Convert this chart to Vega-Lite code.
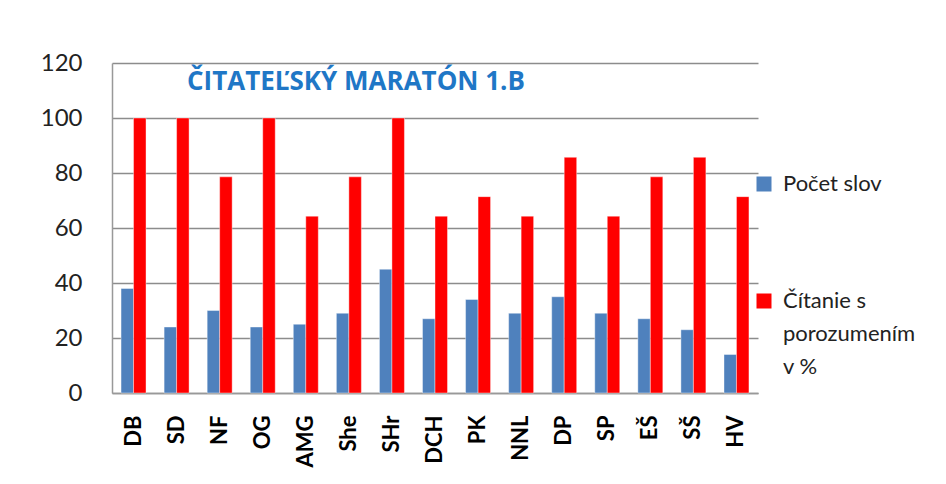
{
  "$schema": "https://vega.github.io/schema/vega-lite/v6.json",
  "width": 646,
  "height": 330,
  "autosize": {"type": "none"},
  "padding": {"left": 112, "top": 63, "right": 188, "bottom": 91},
  "background": "white",
  "title": {
    "text": "ČITATEĽSKÝ MARATÓN 1.B",
    "anchor": "start",
    "frame": "group",
    "dx": 75,
    "dy": 65,
    "offset": 0,
    "baseline": "alphabetic",
    "font": "Open Sans",
    "fontSize": 26,
    "fontWeight": "bold",
    "color": "#1F77C6"
  },
  "data": {
    "values": [
      {"meno": "DB", "serie": "Počet slov", "hodnota": 38},
      {"meno": "DB", "serie": "Čítanie s porozumením v %", "hodnota": 100},
      {"meno": "SD", "serie": "Počet slov", "hodnota": 24},
      {"meno": "SD", "serie": "Čítanie s porozumením v %", "hodnota": 100},
      {"meno": "NF", "serie": "Počet slov", "hodnota": 30},
      {"meno": "NF", "serie": "Čítanie s porozumením v %", "hodnota": 78.6},
      {"meno": "OG", "serie": "Počet slov", "hodnota": 24},
      {"meno": "OG", "serie": "Čítanie s porozumením v %", "hodnota": 100},
      {"meno": "AMG", "serie": "Počet slov", "hodnota": 25},
      {"meno": "AMG", "serie": "Čítanie s porozumením v %", "hodnota": 64.3},
      {"meno": "She", "serie": "Počet slov", "hodnota": 29},
      {"meno": "She", "serie": "Čítanie s porozumením v %", "hodnota": 78.6},
      {"meno": "SHr", "serie": "Počet slov", "hodnota": 45},
      {"meno": "SHr", "serie": "Čítanie s porozumením v %", "hodnota": 100},
      {"meno": "DCH", "serie": "Počet slov", "hodnota": 27},
      {"meno": "DCH", "serie": "Čítanie s porozumením v %", "hodnota": 64.3},
      {"meno": "PK", "serie": "Počet slov", "hodnota": 34},
      {"meno": "PK", "serie": "Čítanie s porozumením v %", "hodnota": 71.4},
      {"meno": "NNL", "serie": "Počet slov", "hodnota": 29},
      {"meno": "NNL", "serie": "Čítanie s porozumením v %", "hodnota": 64.3},
      {"meno": "DP", "serie": "Počet slov", "hodnota": 35},
      {"meno": "DP", "serie": "Čítanie s porozumením v %", "hodnota": 85.7},
      {"meno": "SP", "serie": "Počet slov", "hodnota": 29},
      {"meno": "SP", "serie": "Čítanie s porozumením v %", "hodnota": 64.3},
      {"meno": "EŠ", "serie": "Počet slov", "hodnota": 27},
      {"meno": "EŠ", "serie": "Čítanie s porozumením v %", "hodnota": 78.6},
      {"meno": "SŠ", "serie": "Počet slov", "hodnota": 23},
      {"meno": "SŠ", "serie": "Čítanie s porozumením v %", "hodnota": 85.7},
      {"meno": "HV", "serie": "Počet slov", "hodnota": 14},
      {"meno": "HV", "serie": "Čítanie s porozumením v %", "hodnota": 71.4}
    ]
  },
  "mark": {"type": "bar", "stroke": "white", "strokeWidth": 0.8, "strokeOpacity": 0.5},
  "encoding": {
    "x": {
      "field": "meno",
      "type": "nominal",
      "sort": null,
      "scale": {"paddingInner": 0.42, "paddingOuter": 0.21},
      "axis": {
        "title": null,
        "labelAngle": 270,
        "labelAlign": "right",
        "labelBaseline": "middle",
        "labelPadding": 22,
        "labelFont": "Lato",
        "labelFontSize": 22,
        "labelFontWeight": "bold",
        "labelColor": "#000000",
        "ticks": false,
        "domainColor": "#999999",
        "domainWidth": 1.5
      }
    },
    "xOffset": {"field": "serie", "type": "nominal", "sort": ["Počet slov", "Čítanie s porozumením v %"]},
    "y": {
      "field": "hodnota",
      "type": "quantitative",
      "scale": {"domain": [0, 120], "nice": false},
      "axis": {
        "title": null,
        "values": [0, 20, 40, 60, 80, 100, 120],
        "ticks": false,
        "labelPadding": 30,
        "labelFont": "Lato",
        "labelFontSize": 24,
        "labelColor": "#222222",
        "domainColor": "#999999",
        "domainWidth": 1.5,
        "gridColor": "#8C8C8C",
        "gridWidth": 1.5
      }
    },
    "color": {
      "field": "serie",
      "type": "nominal",
      "sort": ["Počet slov", "Čítanie s porozumením v %"],
      "scale": {"domain": ["Počet slov", "Čítanie s porozumením v %"], "range": ["#4F81BD", "#FF0000"]},
      "legend": {
        "title": null,
        "orient": "none",
        "legendX": 641,
        "legendY": 110,
        "padding": 0,
        "symbolType": "square",
        "symbolSize": 225,
        "symbolStrokeWidth": 0,
        "labelFont": "Lato",
        "labelFontSize": 22,
        "labelColor": "#222222",
        "labelOffset": 8,
        "labelLimit": 200,
        "rowPadding": 95,
        "labelExpr": "datum.label == 'Čítanie s porozumením v %' ? ['Čítanie s', 'porozumením', 'v %'] : datum.label"
      }
    }
  },
  "config": {
    "view": {"stroke": null},
    "style": {"guide-label": {"lineHeight": 33}}
  }
}
